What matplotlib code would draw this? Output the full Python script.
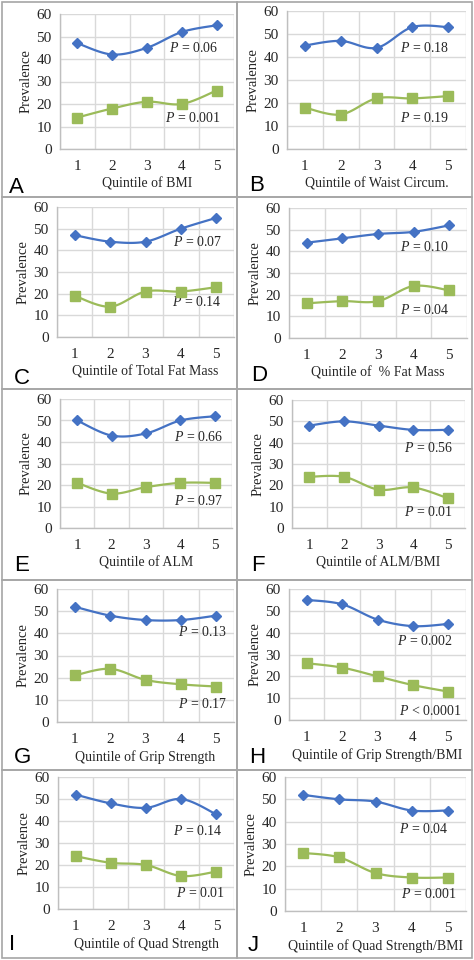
import numpy as np
import matplotlib
matplotlib.use("Agg")
import matplotlib.pyplot as plt
from matplotlib.patches import Rectangle

plt.rcParams["mathtext.fontset"] = "custom"
plt.rcParams["mathtext.it"] = "Liberation Serif:italic"
plt.rcParams["mathtext.rm"] = "Liberation Serif"

W, H = 474, 960

quintiles = [1, 2, 3, 4, 5]
letters = ["A", "B", "C", "D", "E", "F", "G", "H", "I", "J"]
xlabels = ["Quintile of BMI", "Quintile of Waist Circum.",
           "Quintile of Total Fat Mass", "Quintile of  % Fat Mass",
           "Quintile of ALM", "Quintile of ALM/BMI",
           "Quintile of Grip Strength", "Quintile of Grip Strength/BMI",
           "Quintile of Quad Strength", "Quintile of Quad Strength/BMI"]

blue_vals = [
    [47, 42, 45, 52, 55],
    [45, 47, 44, 53, 53],
    [47, 44, 44, 50, 55],
    [44, 46, 48, 49, 52],
    [50, 43, 44, 50, 52],
    [48, 50, 48, 46, 46],
    [52, 48, 46, 46, 48],
    [55, 53, 46, 43, 44],
    [52, 48, 46, 50, 43],
    [52, 50, 49, 45, 45],
]
green_vals = [
    [14, 18, 21, 20, 26],
    [18, 15, 22, 22, 23],
    [19, 14, 21, 21, 23],
    [16, 17, 17, 24, 22],
    [21, 16, 19, 21, 21],
    [24, 24, 18, 19, 14],
    [21, 24, 19, 17, 16],
    [26, 24, 20, 16, 13],
    [24, 21, 20, 15, 17],
    [26, 24, 17, 15, 15],
]
blue_p = ["0.06", "0.18", "0.07", "0.10", "0.66", "0.56", "0.13", "0.002", "0.14", "0.04"]
green_p = ["0.001", "0.19", "0.14", "0.04", "0.97", "0.01", "0.17", "< 0.0001", "0.01", "0.001"]

# where the P labels sit (data coords)
blue_p_pos = [(4.33, 45), (4.35, 44), (4.46, 43.8), (4.32, 42), (4.54, 42.5),
              (4.45, 37.4), (4.6, 40.8), (4.35, 36.2), (4.46, 35.4), (4.34, 36.5)]
green_p_pos = [(4.33, 14), (4.35, 13.3), (4.46, 16.2), (4.32, 12.8), (4.54, 12.5),
               (4.45, 7.6), (4.6, 8.2), (4.49, 4.2), (4.54, 7.3), (4.47, 7.7)]

# plot areas in pixels: left, right, top, bottom
areas = [(60, 234, 14, 149), (287, 466, 11, 149),
         (57, 234, 207, 337), (289, 467, 208, 338),
         (60, 232, 399, 528), (292, 465, 400, 528),
         (57, 234, 589, 722), (289, 466, 589, 720),
         (58, 234, 777, 909), (285, 466, 777, 911)]
letter_pos = [(9, 193), (249, 191), (14, 384), (251, 381), (14, 571), (251, 571),
              (14, 763), (249, 763), (9, 950), (248, 951)]
row_edges = [2, 197, 389, 580, 770, 958]
col_edges = [2, 237, 472]

BLUE = "#4472C4"
GREEN = "#9BBB59"
GRID = "#D9D9D9"
SERIF = "Liberation Serif"


def smooth(x, y, n=30):
    # excel-style bezier smoothing
    x = np.asarray(x, float)
    y = np.asarray(y, float)
    px = np.concatenate([[x[0]], x, [x[-1]]])
    py = np.concatenate([[y[0]], y, [y[-1]]])
    xs, ys = [], []
    t = np.linspace(0, 1, n)
    for i in range(1, len(px) - 2):
        p0 = np.array([px[i], py[i]])
        p3 = np.array([px[i + 1], py[i + 1]])
        p1 = p0 + (np.array([px[i + 1], py[i + 1]]) - np.array([px[i - 1], py[i - 1]])) / 6
        p2 = p3 - (np.array([px[i + 2], py[i + 2]]) - np.array([px[i], py[i]])) / 6
        b = ((1 - t) ** 3)[:, None] * p0 + (3 * (1 - t) ** 2 * t)[:, None] * p1 \
            + (3 * (1 - t) * t ** 2)[:, None] * p2 + (t ** 3)[:, None] * p3
        xs.extend(b[:, 0])
        ys.extend(b[:, 1])
    return xs, ys


fig = plt.figure(figsize=(W / 100, H / 100), dpi=100)
fig.patch.set_facecolor("white")

# cell borders
for r in range(5):
    for c in range(2):
        x0, x1 = col_edges[c], col_edges[c + 1]
        y0, y1 = row_edges[r], row_edges[r + 1]
        fig.patches.append(Rectangle((x0 / W, 1 - y1 / H), (x1 - x0) / W, (y1 - y0) / H,
                                     transform=fig.transFigure, fill=False,
                                     edgecolor="#A6A6A6", linewidth=1.2))

for i in range(10):
    l, r, t, b = areas[i]
    ax = fig.add_axes([l / W, 1 - b / H, (r - l) / W, (b - t) / H])
    ax.set_xlim(0.5, 5.5)
    ax.set_ylim(0, 60)
    ax.set_xticks(quintiles)
    ax.set_xticks([0.5, 1.5, 2.5, 3.5, 4.5, 5.5], minor=True)
    ax.set_yticks(range(0, 61, 10))
    ax.grid(True, which="minor", axis="x", color=GRID, linewidth=1)
    ax.grid(True, which="major", axis="y", color=GRID, linewidth=1)
    ax.set_axisbelow(True)
    for s in ["top", "right"]:
        ax.spines[s].set_visible(False)
    for s in ["left", "bottom"]:
        ax.spines[s].set_color("#BFBFBF")
        ax.spines[s].set_linewidth(1)
    ax.tick_params(which="both", length=0)
    ax.tick_params(axis="x", pad=8, labelsize=11, labelcolor="#262626")
    ax.tick_params(axis="y", pad=6, labelsize=11, labelcolor="#262626")
    for lab in ax.get_xticklabels() + ax.get_yticklabels():
        lab.set_fontfamily(SERIF)

    sx, sy = smooth(quintiles, blue_vals[i])
    ax.plot(sx, sy, color=BLUE, linewidth=1.6, zorder=3)
    ax.plot(quintiles, blue_vals[i], linestyle="none", marker="D", markersize=5,
            color=BLUE, zorder=4)
    sx, sy = smooth(quintiles, green_vals[i])
    ax.plot(sx, sy, color=GREEN, linewidth=1.6, zorder=3)
    ax.plot(quintiles, green_vals[i], linestyle="none", marker="s", markersize=6.5,
            color=GREEN, zorder=4)

    bx, by = blue_p_pos[i]
    ax.text(bx, by, "$P$ = " + blue_p[i], ha="center", va="center", fontsize=10,
            family=SERIF, color="#262626")
    gx, gy = green_p_pos[i]
    ax.text(gx, gy, "$P$ " + ("" if green_p[i].startswith("<") else "= ") + green_p[i],
            ha="center", va="center", fontsize=10, family=SERIF, color="#262626")

    ax.set_xlabel(xlabels[i], fontsize=10, family=SERIF, labelpad=3, color="#262626")
    ax.set_ylabel("Prevalence", fontsize=10.5, family=SERIF, labelpad=3, color="#262626")

    lx, ly = letter_pos[i]
    fig.text(lx / W, 1 - ly / H, letters[i], fontsize=16, family="Liberation Sans",
             ha="left", va="baseline", color="black")

fig.savefig("out.png", dpi=100)
